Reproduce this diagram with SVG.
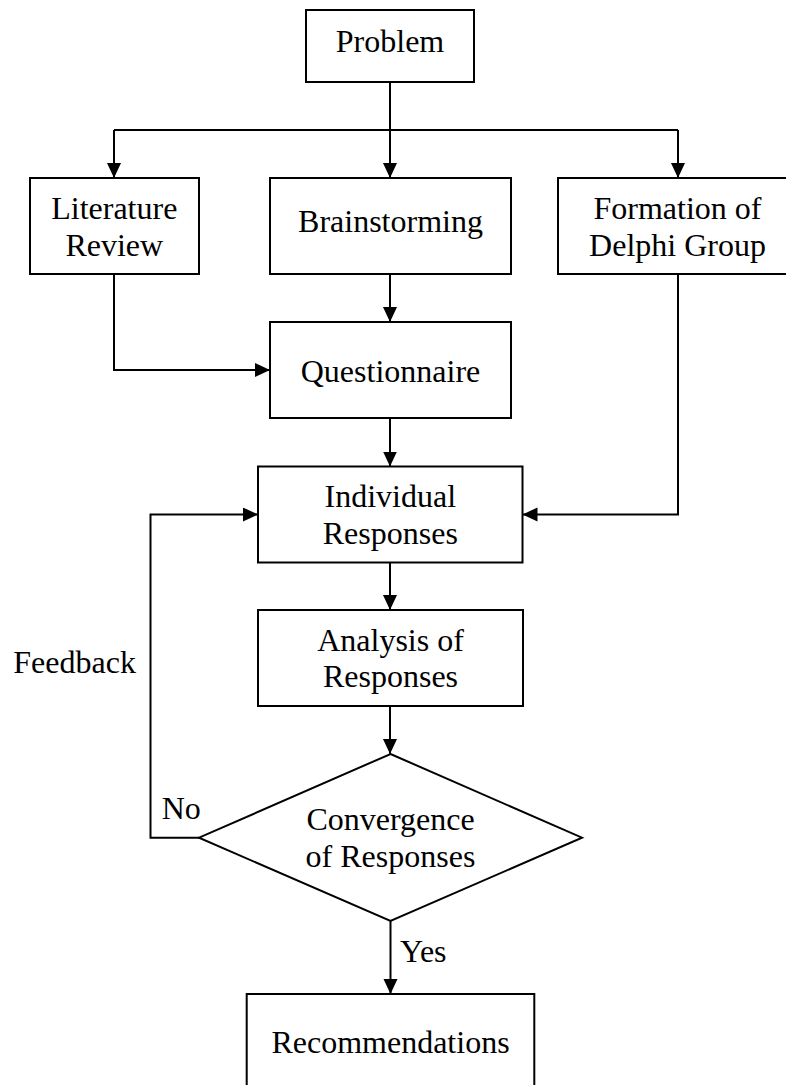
<svg xmlns="http://www.w3.org/2000/svg" width="786" height="1085" viewBox="0 0 786 1085">
<style>
.box{fill:#fff;stroke:#000;stroke-width:2}
.ln{fill:none;stroke:#000;stroke-width:2;marker-end:url(#ah)}
.pl{fill:none;stroke:#000;stroke-width:2}
text{font-family:"Liberation Serif","Times New Roman",serif;font-size:32px;fill:#000}
.c{text-anchor:middle}
</style>
<defs>
<marker id="ah" markerUnits="userSpaceOnUse" markerWidth="16" markerHeight="15" refX="15" refY="7" orient="auto">
<path d="M0,0 L15,7 L0,14 Z" fill="#000"/>
</marker>
</defs>
<rect width="786" height="1085" fill="#fff"/>
<g id="connectors">
<line class="pl" x1="390" y1="82" x2="390" y2="130"/>
<line class="pl" x1="114" y1="130" x2="678" y2="130"/>
<line class="ln" x1="390" y1="130" x2="390" y2="178"/>
<line class="ln" x1="114" y1="130" x2="114" y2="178"/>
<line class="ln" x1="678" y1="130" x2="678" y2="178"/>
<line class="ln" x1="390" y1="274" x2="390" y2="322"/>
<polyline class="ln" points="114,274 114,370 270,370"/>
<line class="ln" x1="390" y1="418" x2="390" y2="466.5"/>
<polyline class="ln" points="678,274 678,514.5 522.5,514.5"/>
<line class="ln" x1="390" y1="562.5" x2="390" y2="610"/>
<line class="ln" x1="390" y1="706" x2="390" y2="754"/>
<polyline class="ln" points="199,837.7 150.5,837.7 150.5,514.5 258,514.5"/>
<line class="ln" x1="390.5" y1="921" x2="390.5" y2="994"/>
</g>
<g id="problem"><rect class="box" x="306" y="10" width="168" height="72"/><text class="c" x="390" y="52">Problem</text></g>
<g id="literature"><rect class="box" x="30" y="178" width="169" height="96"/><text class="c" x="114.3" y="219">Literature</text><text class="c" x="114.3" y="255.7">Review</text></g>
<g id="brainstorming"><rect class="box" x="270" y="178" width="241" height="96"/><text class="c" x="390.5" y="232">Brainstorming</text></g>
<g id="formation"><rect class="box" x="558" y="178" width="240" height="96"/><text class="c" x="677.5" y="219.3">Formation of</text><text class="c" x="677.5" y="256">Delphi Group</text></g>
<g id="questionnaire"><rect class="box" x="270" y="322" width="241" height="96"/><text class="c" x="390.5" y="381.7">Questionnaire</text></g>
<g id="individual"><rect class="box" x="258" y="466.5" width="264.5" height="96"/><text class="c" x="390.3" y="507">Individual</text><text class="c" x="390.3" y="543.7">Responses</text></g>
<g id="analysis"><rect class="box" x="258" y="610" width="265" height="96"/><text class="c" x="390.5" y="650.7">Analysis of</text><text class="c" x="390.5" y="687.3">Responses</text></g>
<g id="convergence"><polygon class="box" points="390.5,754 582,837.7 390.5,921 199,837.7"/><text class="c" x="390.5" y="830">Convergence</text><text class="c" x="390.5" y="866.7">of Responses</text></g>
<g id="recommendations"><rect class="box" x="246.7" y="994" width="287.6" height="100"/><text class="c" x="390.5" y="1053.3">Recommendations</text></g>
<g id="labels">
<text x="13.3" y="673.3">Feedback</text>
<text x="161.7" y="819.3">No</text>
<text x="400" y="961.7">Yes</text>
</g>
</svg>
